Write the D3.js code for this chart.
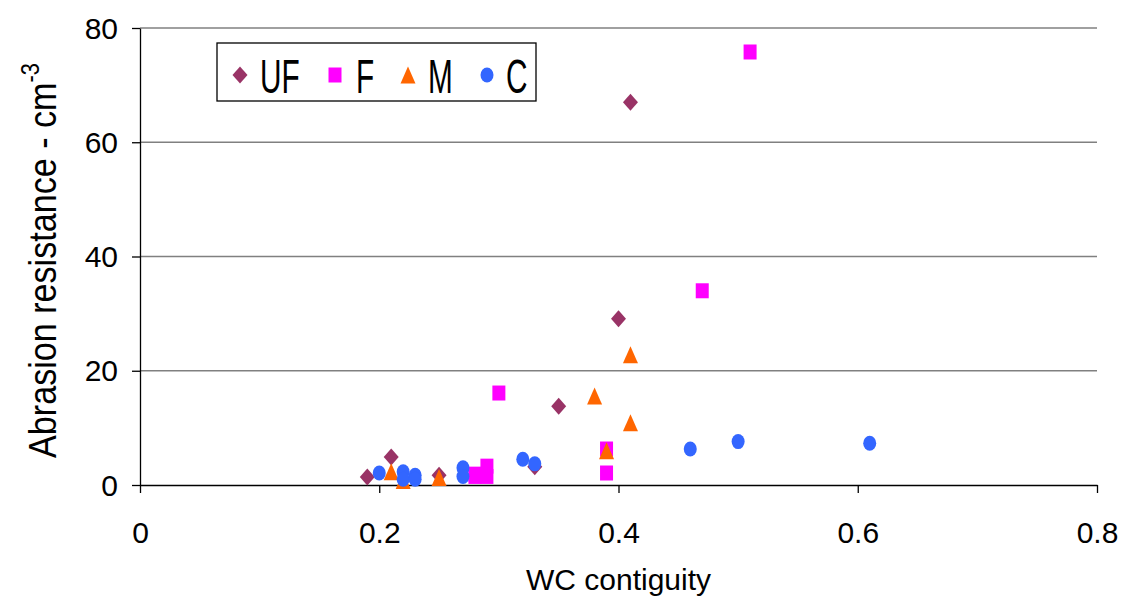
<!DOCTYPE html>
<html>
<head>
<meta charset="utf-8">
<script src="https://cdn.jsdelivr.net/npm/d3@7"></script>
<style>
body { margin: 0; background: #fff; }
text { font-family: 'Liberation Sans', Arial, sans-serif; }
</style>
</head>
<body>
<script>
// values: [WC contiguity, abrasion resistance]
var ufData = [[0.19, 1.4], [0.21, 4.9], [0.25, 1.7], [0.33, 3.2], [0.35, 13.8], [0.40, 29.1], [0.41, 67]];
var fData = [[0.28, 1.5], [0.28, 1.9], [0.29, 1.5], [0.29, 3.3], [0.30, 16.1], [0.39, 6.3], [0.39, 2.1], [0.47, 34], [0.51, 75.8]];
var mData = [[0.21, 2.3], [0.22, 0.8], [0.25, 1.3], [0.38, 15.6], [0.39, 6.0], [0.41, 10.9], [0.41, 22.8]];
var cData = [[0.20, 2.1], [0.22, 2.3], [0.22, 1.0], [0.23, 1.7], [0.23, 1.0], [0.27, 3.0], [0.27, 1.5],
    [0.32, 4.5], [0.33, 3.7], [0.46, 6.3], [0.50, 7.6], [0.61, 7.3]];

var seriesNames = ['UF', 'F', 'M', 'C'];
var xTicks = [0, 0.2, 0.4, 0.6, 0.8];
var yTicks = [0, 20, 40, 60, 80];

var width = 1121,
    height = 599;
var margin = {left: 140, right: 24, top: 28, bottom: 114};

// marker shapes, drawn at a given width and stretched vertically like the original
var diamond = {draw: function (ctx, size) {
    var r = Math.sqrt(size) / 2;
    ctx.moveTo(0, -r); ctx.lineTo(r, 0); ctx.lineTo(0, r); ctx.lineTo(-r, 0); ctx.closePath();
}};
var square = {draw: function (ctx, size) {
    var r = Math.sqrt(size) / 2;
    ctx.rect(-r, -r, 2 * r, 2 * r);
}};
var triangle = {draw: function (ctx, size) {
    var r = Math.sqrt(size) / 2;
    ctx.moveTo(0, -r); ctx.lineTo(r, r); ctx.lineTo(-r, r); ctx.closePath();
}};
var circle = {draw: function (ctx, size) {
    var r = Math.sqrt(size) / 2;
    ctx.moveTo(r, 0); ctx.arc(0, 0, r, 0, 2 * Math.PI);
}};

var series = [
    {name: 'UF', data: ufData, color: '#993366', symbol: diamond, w: 15, sy: 17 / 15},
    {name: 'F', data: fData, color: '#ff00ff', symbol: square, w: 13, sy: 15 / 13},
    {name: 'M', data: mData, color: '#ff6600', symbol: triangle, w: 15, sy: 17 / 15},
    {name: 'C', data: cData, color: '#3366ff', symbol: circle, w: 13, sy: 15 / 13}
];

var svg = d3.select('body').append('svg')
    .attr('width', width)
    .attr('height', height);

var x = d3.scaleLinear().domain([0, 0.8]).range([margin.left, width - margin.right]);
var y = d3.scaleLinear().domain([0, 80]).range([height - margin.bottom, margin.top]);

// horizontal gridlines
svg.append('g').selectAll('line').data(yTicks.slice(1)).enter().append('line')
    .attr('x1', x(0)).attr('x2', x(0.8))
    .attr('y1', function (d) { return y(d); })
    .attr('y2', function (d) { return y(d); })
    .style('stroke', '#808080')
    .style('stroke-width', 1.3);

var xAxis = svg.append('g')
    .attr('transform', 'translate(0,' + y(0) + ')')
    .call(d3.axisBottom(x).tickValues(xTicks).tickSize(8).tickSizeOuter(0).tickFormat(d3.format('')));
var yAxis = svg.append('g')
    .attr('transform', 'translate(' + x(0) + ',0)')
    .call(d3.axisLeft(y).tickValues(yTicks).tickSize(8).tickSizeOuter(0));

[xAxis, yAxis].forEach(function (ax) {
    ax.select('.domain').style('stroke', '#000').style('stroke-width', 1.3);
    ax.selectAll('.tick line').style('stroke', '#000').style('stroke-width', 1.3);
    ax.selectAll('.tick text')
        .style('font-family', "'Liberation Sans', Arial, sans-serif")
        .style('font-size', '30px')
        .style('fill', '#000');
});
xAxis.selectAll('.tick text').attr('dy', '0').attr('y', 58);
yAxis.selectAll('.tick text').attr('x', -22).attr('dy', '0.34em');

// points
series.forEach(function (s) {
    svg.append('g').selectAll('path').data(s.data).enter().append('path')
        .attr('d', d3.symbol().type(s.symbol).size(s.w * s.w))
        .attr('transform', function (d) {
            return 'translate(' + x(d[0]) + ',' + y(d[1]) + ') scale(1,' + s.sy + ')';
        })
        .style('fill', s.color);
});

// axis titles
svg.append('text')
    .attr('x', (x(0) + x(0.8)) / 2)
    .attr('y', 590)
    .attr('text-anchor', 'middle')
    .style('font-size', '30px')
    .text('WC contiguity');

var yt = svg.append('text')
    .attr('transform', 'translate(56,' + ((y(0) + y(80)) / 2 + 4) + ') rotate(-90) scale(0.875,1)')
    .attr('text-anchor', 'middle')
    .style('font-size', '39px');
yt.append('tspan').text('Abrasion resistance - cm');
yt.append('tspan').attr('dy', -17).style('font-size', '25px').text('-3');

// legend
var legend = svg.append('g');
legend.append('rect')
    .attr('x', 217).attr('y', 43)
    .attr('width', 319).attr('height', 58)
    .style('fill', '#fff')
    .style('stroke', '#000')
    .style('stroke-width', 1.3);

var legendX = [240, 335, 408, 487];
var legendTextX = [260, 356, 428, 506];
series.forEach(function (s, i) {
    legend.append('path')
        .attr('d', d3.symbol().type(s.symbol).size(s.w * s.w))
        .attr('transform', 'translate(' + legendX[i] + ',75) scale(1,' + s.sy + ')')
        .style('fill', s.color);
    legend.append('text')
        .attr('transform', 'translate(' + legendTextX[i] + ',93) scale(0.62,1)')
        .style('font-size', '48px')
        .text(seriesNames[i]);
});
</script>
</body>
</html>
